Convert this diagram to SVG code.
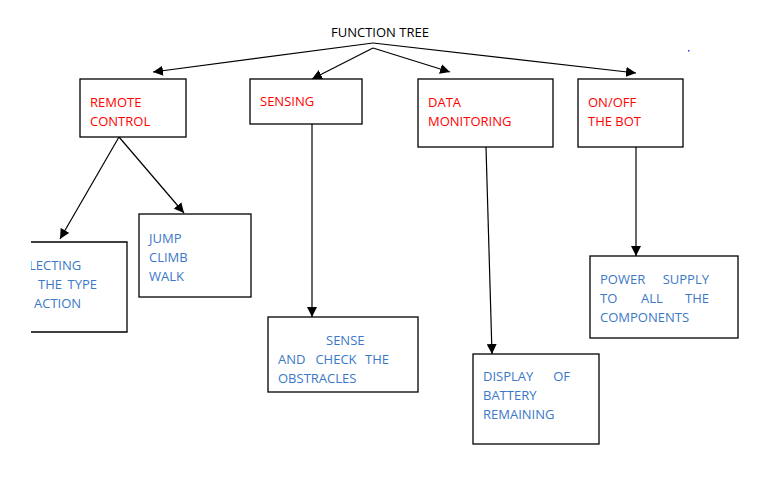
<svg xmlns="http://www.w3.org/2000/svg" width="784" height="478" viewBox="0 0 784 478">
<style>
text{font-family:"Open Sans","Liberation Sans",sans-serif;font-size:13px}
.t{fill:#000}
.r{fill:#ff0000}
.b{fill:#3b78c8}
.e{text-anchor:end}
.m{text-anchor:middle}
.box{fill:#fff;stroke:#000;stroke-width:1.3}
.c{stroke:#000;stroke-width:1.2;fill:none;marker-end:url(#ah)}
</style>
<defs>
<marker id="ah" viewBox="0 0 10 10" refX="10" refY="5" markerWidth="10" markerHeight="10" markerUnits="userSpaceOnUse" orient="auto">
<path d="M0,0 L10,5 L0,10 z" fill="#000"/>
</marker>
<clipPath id="cl"><rect x="31" y="0" width="753" height="478"/></clipPath>
</defs>
<rect width="784" height="478" fill="#fff"/>
<g id="title"><text class="t" x="331" y="37">FUNCTION TREE</text></g>
<g id="connectors">
<line class="c" x1="373" y1="43" x2="153" y2="72"/>
<line class="c" x1="373" y1="48" x2="312" y2="79"/>
<line class="c" x1="373" y1="48" x2="450" y2="72"/>
<line class="c" x1="373" y1="43" x2="636" y2="73"/>
<line class="c" x1="119" y1="137" x2="60" y2="239"/>
<line class="c" x1="119" y1="137" x2="184" y2="213"/>
<line class="c" x1="312" y1="124" x2="312" y2="317"/>
<line class="c" x1="486" y1="147" x2="492" y2="354"/>
<line class="c" x1="636" y1="147" x2="636" y2="256"/>
</g>
<g id="remote">
<rect class="box" x="80" y="79" width="106" height="58"/>
<text class="r" x="90" y="107">REMOTE</text>
<text class="r" x="90" y="126">CONTROL</text>
</g>
<g id="sensing">
<rect class="box" x="250" y="79" width="112" height="45"/>
<text class="r" x="260" y="106">SENSING</text>
</g>
<g id="data">
<rect class="box" x="418" y="79" width="135" height="68"/>
<text class="r" x="428" y="107">DATA</text>
<text class="r" x="428" y="126">MONITORING</text>
</g>
<g id="onoff">
<rect class="box" x="578" y="79" width="105" height="68"/>
<text class="r" x="588" y="107">ON/OFF</text>
<text class="r" x="588" y="126">THE BOT</text>
</g>
<g id="select" clip-path="url(#cl)">
<polyline points="20,242 127,242 127,332 20,332" fill="#fff" stroke="#000" stroke-width="1.3"/>
<text class="b" x="29" y="270">LECTING</text>
<text class="b" x="38" y="289">THE</text>
<text class="b e" x="97" y="289">TYPE</text>
<text class="b" x="34" y="308">ACTION</text>
</g>
<g id="jump">
<rect class="box" x="139" y="214" width="112" height="83"/>
<text class="b" x="149" y="243">JUMP</text>
<text class="b" x="149" y="262">CLIMB</text>
<text class="b" x="149" y="281">WALK</text>
</g>
<g id="sense">
<rect class="box" x="268" y="317" width="150" height="75"/>
<text class="b" x="326" y="345">SENSE</text>
<text class="b" x="278" y="364">AND</text>
<text class="b m" x="336" y="364">CHECK</text>
<text class="b e" x="389" y="364">THE</text>
<text class="b" x="278" y="383">OBSTRACLES</text>
</g>
<g id="display">
<rect class="box" x="473" y="354" width="126" height="90"/>
<text class="b" x="483" y="381">DISPLAY</text>
<text class="b e" x="570" y="381">OF</text>
<text class="b" x="483" y="400">BATTERY</text>
<text class="b" x="483" y="419">REMAINING</text>
</g>
<g id="power">
<rect class="box" x="590" y="256" width="148" height="82"/>
<text class="b" x="600" y="284">POWER</text>
<text class="b e" x="709" y="284">SUPPLY</text>
<text class="b" x="600" y="303">TO</text>
<text class="b m" x="652" y="303">ALL</text>
<text class="b e" x="709" y="303">THE</text>
<text class="b" x="600" y="322">COMPONENTS</text>
</g>
<rect x="688" y="50" width="1.5" height="1.5" fill="#2040ff"/>
</svg>
